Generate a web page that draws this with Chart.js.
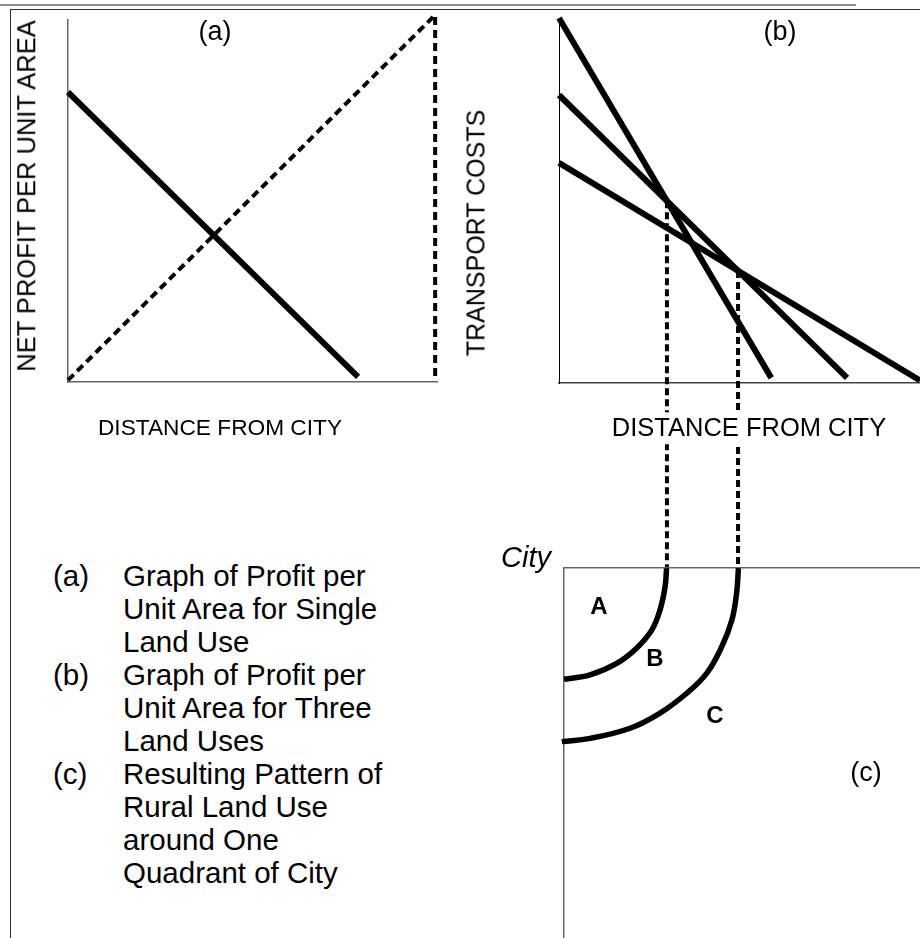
<!DOCTYPE html>
<html>
<head>
<meta charset="utf-8">
<title>Profit per unit area and rural land use</title>
<script src="https://cdn.jsdelivr.net/npm/chart.js@4.4.1/dist/chart.umd.min.js"></script>
<style>
  html, body { margin: 0; padding: 0; background: #fff; }
  body { width: 920px; height: 938px; position: relative; overflow: hidden;
         font-family: 'Liberation Sans', Arial, sans-serif; color: #000; }
  canvas { position: absolute; }
  .frame { position: absolute; left: 10px; top: 9px; width: 930px; height: 940px;
           border-top: 1px solid #333; border-left: 1px solid #333; }
  .rule { position: absolute; left: 0; top: 4px; width: 856px; height: 2px; background: #8a8a8a; }
  .txt { position: absolute; white-space: nowrap; line-height: 1; transform: translate(-50%, -50%); }
  .up { transform: translate(-50%, -50%) rotate(-90deg); }
  .notes { position: absolute; left: 53px; top: 559px; font-size: 29.5px; line-height: 33px; white-space: nowrap; }
  .notes div { position: relative; padding-left: 70px; }
  .notes span { position: absolute; left: 0; }
</style>
</head>
<body>
<div class="rule"></div>
<div class="frame"></div>

<canvas id="panel-a" width="460" height="420" style="left:0;top:0"></canvas>
<canvas id="panel-b" width="460" height="580" style="left:460px;top:0"></canvas>
<canvas id="panel-c" width="380" height="378" style="left:540px;top:560px"></canvas>

<div class="txt" style="left:215px;top:31px;font-size:27px">(a)</div>
<div class="txt" style="left:780px;top:31px;font-size:27px">(b)</div>
<div class="txt up" style="left:27px;top:196px;font-size:25.5px">NET PROFIT PER UNIT AREA</div>
<div class="txt up" style="left:476px;top:233px;font-size:25px">TRANSPORT COSTS</div>
<div class="txt" style="left:220px;top:427px;font-size:22.7px">DISTANCE FROM CITY</div>
<div class="txt" style="left:749px;top:428px;font-size:25.5px;background:#fff;padding:3px 0">DISTANCE FROM CITY</div>

<div class="txt" style="left:526px;top:557px;font-size:29px;font-style:italic">City</div>
<div class="txt" style="left:599px;top:606px;font-size:24px;font-weight:bold">A</div>
<div class="txt" style="left:655px;top:658px;font-size:24px;font-weight:bold">B</div>
<div class="txt" style="left:715px;top:715px;font-size:24px;font-weight:bold">C</div>
<div class="txt" style="left:866px;top:772px;font-size:27px">(c)</div>

<div class="notes">
  <div><span>(a)</span>Graph of Profit per<br>Unit Area for Single<br>Land Use</div>
  <div><span>(b)</span>Graph of Profit per<br>Unit Area for Three<br>Land Uses</div>
  <div><span>(c)</span>Resulting Pattern of<br>Rural Land Use<br>around One<br>Quadrant of City</div>
</div>

<script>
// (a) single land use: net profit falls, transport cost rises with distance
const aProfitDistance = [0, 78.6];
const aProfit = [80.1, 1.4];
const aCostDistance = [0, 99.5, 99.5];
const aCost = [0.5, 101.4, 1.1];

// (b) three land uses A, B, C: profit at the city and where it reaches zero
const landUses = ['A', 'B', 'C'];
const bProfitAtCity = [100, 78.9, 60.3];
const bEndDistance = [58.8, 79.8, 100];
const bEndProfit = [1.4, 1.4, 0.7];

// distances where the most profitable use changes (A->B, B->C)
const bandEdges = [29.9, 49.6];
const bandEdgeProfit = [49.8, 30.7];
const dropTo = -51;

// (c) boundaries of the rings in one quadrant: distance east / south of the city
const innerEast = [28.4, 28.0, 26.6, 24.3, 20.1, 14.6, 7.2, 0];
const innerSouth = [0.1, 5.2, 11.6, 17.2, 22.2, 26.4, 29.6, 30.8];
const outerEast = [48.3, 47.8, 46.5, 43.7, 39.5, 34.0, 26.6, 18.3, 7.2, -0.6];
const outerSouth = [0.1, 7.0, 14.4, 21.8, 29.2, 34.7, 40.2, 44.4, 47.2, 48.1];

const points = (xs, ys) => xs.map((x, i) => ({ x: x, y: ys[i] }));

function axis(extra, borderColor, borderWidth) {
  return Object.assign({
    type: 'linear',
    grid: { display: false, drawTicks: false },
    ticks: { display: false },
    border: { color: borderColor, width: borderWidth }
  }, extra);
}

function options(padding, scales) {
  return {
    responsive: false,
    animation: false,
    events: [],
    layout: { padding: padding, autoPadding: false },
    plugins: { legend: { display: false }, tooltip: { enabled: false } },
    elements: {
      point: { radius: 0 },
      line: { borderColor: '#000', borderWidth: 6, tension: 0, fill: false, borderCapStyle: 'butt' }
    },
    scales: scales
  };
}

// --- (a) ---
new Chart(document.getElementById('panel-a'), {
  type: 'line',
  data: {
    datasets: [{
      label: 'Net profit',
      data: points(aProfitDistance, aProfit),
      clip: false
    }, {
      label: 'Transport costs',
      data: points(aCostDistance, aCost),
      borderWidth: 4,
      borderDash: [8, 5],
      clip: false
    }]
  },
  options: options({ left: 68, top: 20, right: 23, bottom: 38 }, {
    x: axis({ min: 0, max: 100 }, '#666', 1.5),
    y: axis({ min: 0, max: 100 }, '#666', 1.5)
  })
});

// --- (b) ---
const bDatasets = landUses.map((use, i) => ({
  label: 'Land use ' + use,
  data: points([0, bEndDistance[i]], [bProfitAtCity[i], bEndProfit[i]]),
  clip: false
}));
bandEdges.forEach((d, j) => {
  bDatasets.push({
    label: 'Boundary ' + (j + 1),
    data: points([d, d], [bandEdgeProfit[j], dropTo]),
    borderWidth: 4,
    borderDash: [7, 4],
    clip: false
  });
});

new Chart(document.getElementById('panel-b'), {
  type: 'line',
  data: { datasets: bDatasets },
  options: options({ left: 99, top: 18, right: 0, bottom: 197 }, {
    x: axis({ min: 0, max: 100 }, '#444', 1.5),
    y: axis({ min: 0, max: 100 }, '#000', 1)
  })
});

// --- (c) ---
new Chart(document.getElementById('panel-c'), {
  type: 'line',
  data: {
    datasets: [{
      label: 'A / B',
      data: points(innerEast, innerSouth),
      borderWidth: 5.5,
      tension: 0.4,
      clip: false
    }, {
      label: 'B / C',
      data: points(outerEast, outerSouth),
      borderWidth: 5.5,
      tension: 0.4,
      clip: false
    }]
  },
  options: options({ left: 24, top: 8, right: 0, bottom: 0 }, {
    x: axis({ min: 0, max: 98.6, position: 'top' }, '#666', 1.5),
    y: axis({ min: 0, max: 102.5, reverse: true }, '#666', 1.5)
  })
});
</script>
</body>
</html>
